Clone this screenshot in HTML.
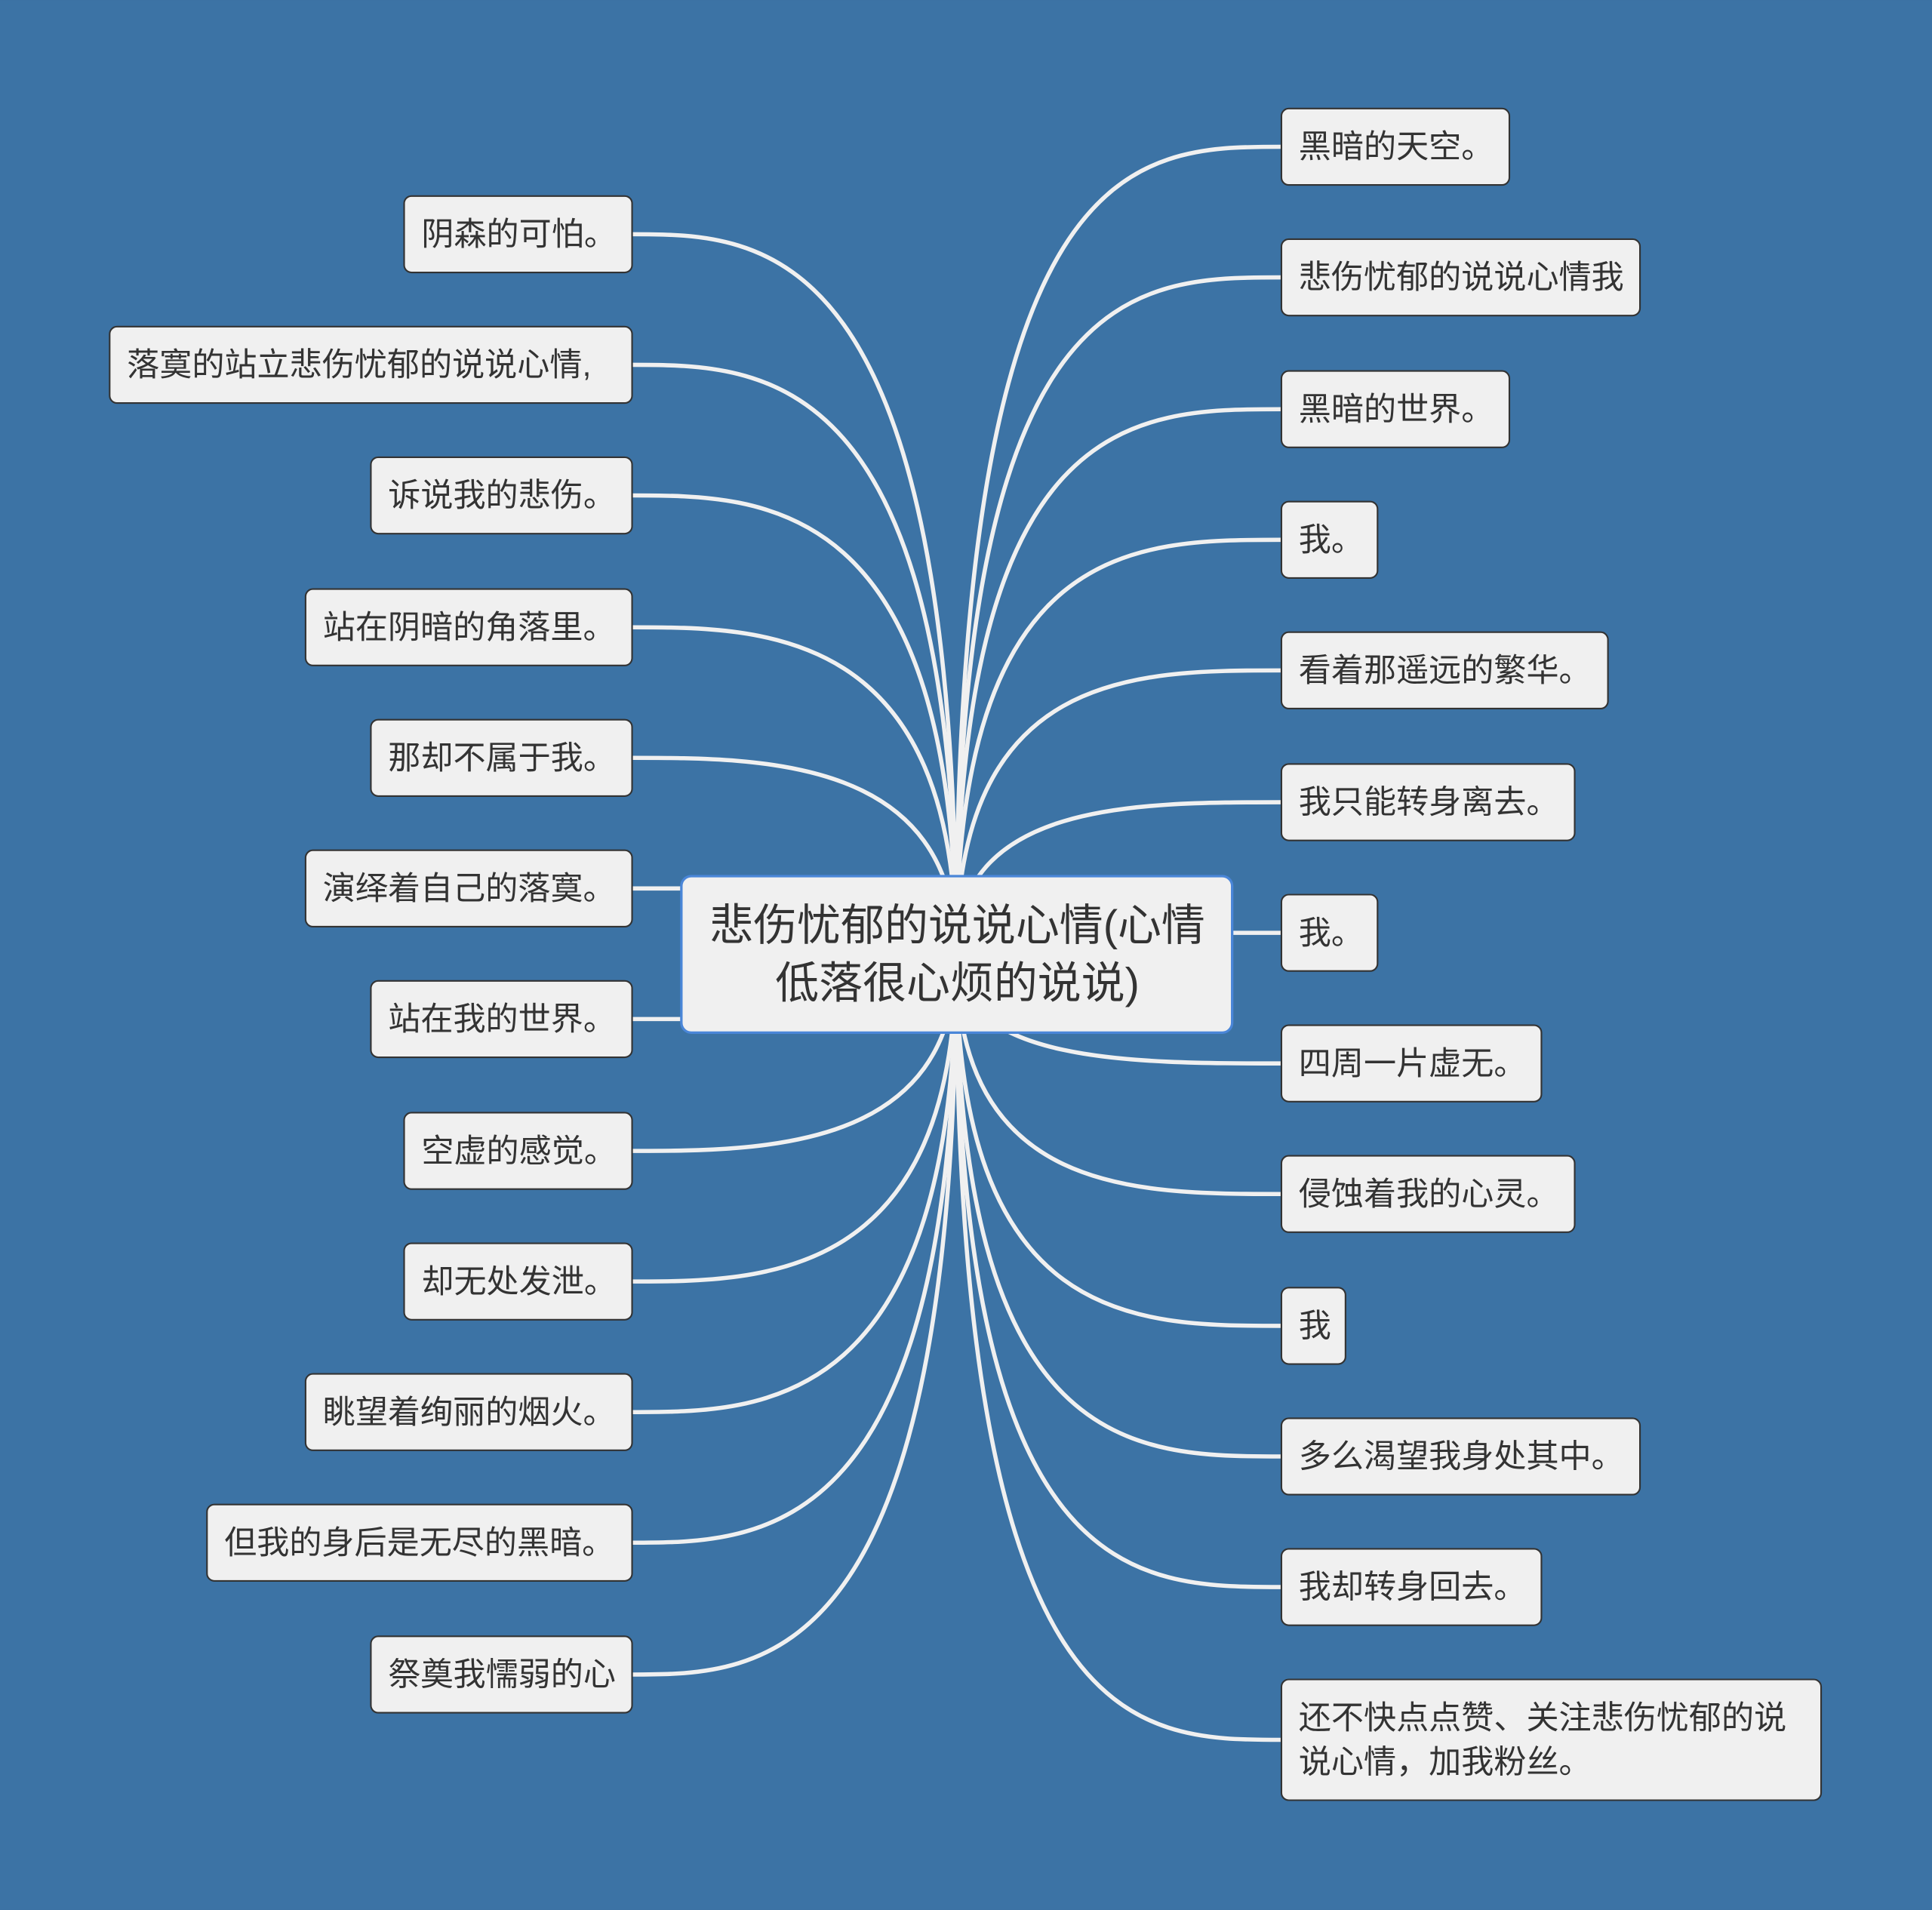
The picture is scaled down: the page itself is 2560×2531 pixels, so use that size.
<!DOCTYPE html>
<html><head><meta charset="utf-8"><style>
html,body{margin:0;padding:0;background:#3c73a5;}
svg{display:block;}
text{font-family:"Liberation Sans","Noto Sans CJK SC",sans-serif;fill:#333;}
</style></head><body>
<svg width="2560" height="2531" viewBox="0 0 1568 1550" xmlns="http://www.w3.org/2000/svg">
<rect width="1568" height="1550" fill="#3c73a5"/>
<g fill="none" stroke="#f0f0f0" stroke-width="3.4">
<path d="M776 775 C776 190 620 190 513 190"/>
<path d="M776 775 C776 296 620 296 513 296"/>
<path d="M776 775 C776 402 620 402 513 402"/>
<path d="M776 775 C776 509 620 509 513 509"/>
<path d="M776 775 C776 615 620 615 513 615"/>
<path d="M553 721 L513 721"/>
<path d="M553 827 L513 827"/>
<path d="M776 775 C776 934 620 934 513 934"/>
<path d="M776 775 C776 1040 620 1040 513 1040"/>
<path d="M776 775 C776 1146 620 1146 513 1146"/>
<path d="M776 775 C776 1252 620 1252 513 1252"/>
<path d="M776 775 C776 1359 620 1359 513 1359"/>
<path d="M776 775 C776 119 920 119 1040 119"/>
<path d="M776 775 C776 225 920 225 1040 225"/>
<path d="M776 775 C776 332 920 332 1040 332"/>
<path d="M776 775 C776 438 920 438 1040 438"/>
<path d="M776 775 C776 544 920 544 1040 544"/>
<path d="M776 775 C776 651 920 651 1040 651"/>
<path d="M1000 757 L1040 757"/>
<path d="M776 775 C776 863 920 863 1040 863"/>
<path d="M776 775 C776 969 920 969 1040 969"/>
<path d="M776 775 C776 1076 920 1076 1040 1076"/>
<path d="M776 775 C776 1182 920 1182 1040 1182"/>
<path d="M776 775 C776 1288 920 1288 1040 1288"/>
<path d="M776 775 C776 1412 920 1412 1040 1412"/>
</g>
<rect x="553" y="711" width="447" height="127" rx="8" fill="#f0f0f0" stroke="#4a86d8" stroke-width="2"/>
<text x="777" y="763" font-size="35.5" text-anchor="middle">悲伤忧郁的说说心情(心情</text>
<text x="777" y="810" font-size="35.5" text-anchor="middle">低落很心烦的说说)</text>
<g fill="#f0f0f0" stroke="#333" stroke-width="1.3">
<rect x="328" y="159" width="185" height="62" rx="6"/>
<rect x="89" y="265" width="424" height="62" rx="6"/>
<rect x="301" y="371" width="212" height="62" rx="6"/>
<rect x="248" y="478" width="265" height="62" rx="6"/>
<rect x="301" y="584" width="212" height="62" rx="6"/>
<rect x="248" y="690" width="265" height="62" rx="6"/>
<rect x="301" y="796" width="212" height="62" rx="6"/>
<rect x="328" y="903" width="185" height="62" rx="6"/>
<rect x="328" y="1009" width="185" height="62" rx="6"/>
<rect x="248" y="1115" width="265" height="62" rx="6"/>
<rect x="168" y="1221" width="345" height="62" rx="6"/>
<rect x="301" y="1328" width="212" height="62" rx="6"/>
<rect x="1040" y="88" width="185" height="62" rx="6"/>
<rect x="1040" y="194" width="291" height="62" rx="6"/>
<rect x="1040" y="301" width="185" height="62" rx="6"/>
<rect x="1040" y="407" width="78" height="62" rx="6"/>
<rect x="1040" y="513" width="265" height="62" rx="6"/>
<rect x="1040" y="620" width="238" height="62" rx="6"/>
<rect x="1040" y="726" width="78" height="62" rx="6"/>
<rect x="1040" y="832" width="211" height="62" rx="6"/>
<rect x="1040" y="938" width="238" height="62" rx="6"/>
<rect x="1040" y="1045" width="52" height="62" rx="6"/>
<rect x="1040" y="1151" width="291" height="62" rx="6"/>
<rect x="1040" y="1257" width="211" height="62" rx="6"/>
<rect x="1040" y="1363" width="438" height="98" rx="6"/>
</g>
<g font-size="26.4">
<text x="342" y="199">阴森的可怕。</text>
<text x="103" y="305">落寞的站立悲伤忧郁的说说心情,</text>
<text x="315" y="411">诉说我的悲伤。</text>
<text x="262" y="518">站在阴暗的角落里。</text>
<text x="315" y="624">那却不属于我。</text>
<text x="262" y="730">演绎着自己的落寞。</text>
<text x="315" y="836">站在我的世界。</text>
<text x="342" y="943">空虚的感觉。</text>
<text x="342" y="1049">却无处发泄。</text>
<text x="262" y="1155">眺望着绚丽的烟火。</text>
<text x="182" y="1261">但我的身后是无尽的黑暗。</text>
<text x="315" y="1368">祭奠我懦弱的心</text>
<text x="1054" y="128">黑暗的天空。</text>
<text x="1054" y="234">悲伤忧郁的说说心情我</text>
<text x="1054" y="341">黑暗的世界。</text>
<text x="1054" y="447">我。</text>
<text x="1054" y="553">看着那遥远的繁华。</text>
<text x="1054" y="660">我只能转身离去。</text>
<text x="1054" y="766">我。</text>
<text x="1054" y="872">四周一片虚无。</text>
<text x="1054" y="978">侵蚀着我的心灵。</text>
<text x="1054" y="1085">我</text>
<text x="1054" y="1191">多么渴望我身处其中。</text>
<text x="1054" y="1297">我却转身回去。</text>
<text x="1054" y="1403">还不快点点赞、关注悲伤忧郁的说</text>
<text x="1054" y="1439">说心情，加我粉丝。</text>
</g>
</svg>
</body></html>
